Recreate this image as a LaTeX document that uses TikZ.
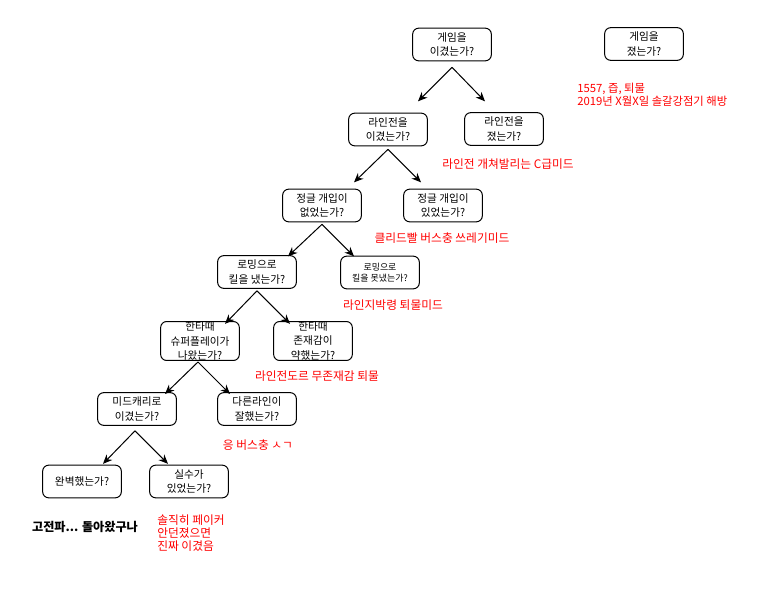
\documentclass[tikz,border=0pt]{standalone}
\usepackage{fontspec}
\setmainfont{Noto Sans CJK KR}
\usetikzlibrary{arrows.meta}

\tikzset{
	box/.style={draw, rounded corners=4.5pt, line width=0.75pt, minimum width=59pt, minimum height=24.5pt, inner sep=0pt, align=center, font=\fontsize{8}{11}\selectfont},
	note/.style={text=red, inner sep=0pt, align=center, font=\fontsize{8.8}{9.6}\selectfont},
	arr/.style={-{Stealth[length=7pt,width=6pt]}, line width=0.75pt},
}

\begin{document}
\begin{tikzpicture}[x=0.75pt,y=-0.75pt]
		\useasboundingbox (0,0) rectangle (759,588);
		% questions
		\node (win) at (452,44.5) [box] {게임을\\이겼는가?};
		\node (lose) at (644,44) [box] {게임을\\졌는가?};
		\node (lanewin) at (388,129.5) [box] {라인전을\\이겼는가?};
		\node (lanelose) at (504,129) [box] {라인전을\\졌는가?};
		\node (nojg) at (322,205.5) [box] {정글 개입이\\없었는가?};
		\node (jg) at (443,205.5) [box] {정글 개입이\\있었는가?};
		\node (roamkill) at (257,272) [box] {로밍으로\\킬을 냈는가?};
		\node (roamnokill) at (380,272.5) [box,font=\fontsize{6.7}{8.4}\selectfont] {로밍으로\\킬을 못냈는가?};
		\node (teamplay) at (200,341) [box] {한타때\\슈퍼플레이가\\나왔는가?};
		\node (teamweak) at (313,341) [box] {한타때\\존재감이\\약했는가?};
		\node (midcarry) at (137,409) [box] {미드캐리로\\이겼는가?};
		\node (others) at (257,409) [box] {다른라인이\\잘했는가?};
		\node (perfect) at (82,481.5) [box] {완벽했는가?};
		\node (mistake) at (189,481.5) [box] {실수가\\있었는가?};
		% verdicts
		\node (losenote) at (577,95) [note,anchor=west,align=left,font=\fontsize{8.5}{9.6}\selectfont] {1557, 즙, 퇴물\\2019년 X월X일 솔갈강점기 해방};
		\node (lanelosenote) at (508,164) [note] {라인전 개쳐발리는 C급미드};
		\node (jgnote) at (442,238) [note] {클리드빨 버스충 쓰레기미드};
		\node (roamnote) at (393,305) [note] {라인지박령 퇴물미드};
		\node (weaknote) at (317,376) [note] {라인전도르 무존재감 퇴물};
		\node (othersnote) at (258,445) [note] {응 버스충 ㅅㄱ};
		\node (perfectnote) at (85,527) [note,text=black,font=\fontsize{9.1}{9.6}\selectfont\bfseries] {고전파... 돌아왔구나};
		\node (mistakenote) at (157,533) [note,anchor=west,align=left] {솔직히 페이커\\안던졌으면\\진짜 이겼음};
		% forks
		\path (win.south) ++(0,6) coordinate (f1) ++(-34,34) coordinate (f1l) (f1) ++(33,34) coordinate (f1r);
		\path (lanewin.south) ++(0,3) coordinate (f2) ++(-34,33) coordinate (f2l) (f2) ++(33,33) coordinate (f2r);
		\path (nojg.south) ++(0,2) coordinate (f3) ++(-34,32) coordinate (f3l) (f3) ++(32,32) coordinate (f3r);
		\path (roamkill.south) ++(0,2) coordinate (f4) ++(-32,33) coordinate (f4l) (f4) ++(33,33) coordinate (f4r);
		\path (teamplay.south) ++(-2,1) coordinate (f5) ++(-33,32) coordinate (f5l) (f5) ++(32,32) coordinate (f5r);
		\path (midcarry.south) ++(-2,5) coordinate (f6) ++(-32,33) coordinate (f6l) (f6) ++(33,33) coordinate (f6r);
		\foreach \f in {f1,f2,f3,f4,f5,f6} {
			\draw[arr] (\f) -- (\f l);
			\draw[arr] (\f) -- (\f r);
		}
	\end{tikzpicture}
\end{document}
